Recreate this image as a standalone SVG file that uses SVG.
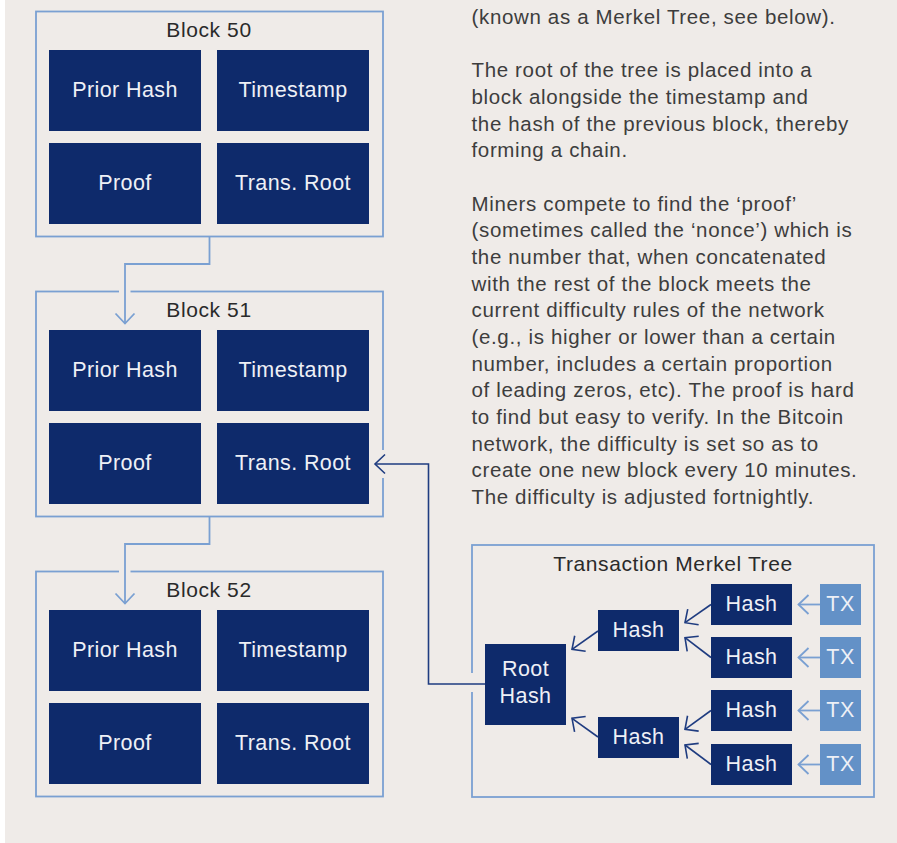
<svg xmlns="http://www.w3.org/2000/svg" width="897" height="843" viewBox="0 0 897 843">
<defs>
<style>
.frame{fill:none;stroke:#7aa0d2;stroke-width:1.8}
.box{fill:#0e2a6b}
.tx{fill:#6391c7}
.lbl{font-family:"Liberation Sans",Arial,sans-serif;font-size:21.5px;letter-spacing:0.4px;fill:#eef0f6;text-anchor:middle}
.title{font-family:"Liberation Sans",Arial,sans-serif;font-size:21px;letter-spacing:0.6px;fill:#2a2a2a;text-anchor:middle}
.para{font-family:"Liberation Sans",Arial,sans-serif;font-size:20.5px;letter-spacing:0.65px;fill:#3d3d3d}
.lc{fill:none;stroke:#7aa0d2;stroke-width:1.8}
.dc{fill:none;stroke:#1f3c80;stroke-width:1.6}
.gap{fill:#efebe8}
</style>
<marker id="al" markerUnits="userSpaceOnUse" markerWidth="14" markerHeight="22" viewBox="0 0 14 22" refX="12" refY="11" orient="auto">
<path d="M2,1.5 L12,11 L2,20.5" fill="none" stroke="#7aa0d2" stroke-width="1.8"/>
</marker>
<marker id="ad" markerUnits="userSpaceOnUse" markerWidth="14" markerHeight="22" viewBox="0 0 14 22" refX="12" refY="11" orient="auto">
<path d="M2,1.5 L12,11 L2,20.5" fill="none" stroke="#1f3c80" stroke-width="1.6"/>
</marker>
</defs>
<rect x="0" y="0" width="897" height="843" fill="#ffffff"/>
<rect x="5" y="0" width="892" height="843" fill="#efebe8"/>

<g id="block50">
<rect class="frame" x="36" y="11.5" width="347" height="225"/>
<text class="title" x="209" y="37">Block 50</text>
<rect class="box" x="49" y="50" width="152" height="81"/>
<text class="lbl" x="125" y="97">Prior Hash</text>
<rect class="box" x="217" y="50" width="152" height="81"/>
<text class="lbl" x="293" y="97">Timestamp</text>
<rect class="box" x="49" y="143" width="152" height="81"/>
<text class="lbl" x="125" y="190">Proof</text>
<rect class="box" x="217" y="143" width="152" height="81"/>
<text class="lbl" x="293" y="190">Trans. Root</text>
</g>

<g id="block51">
<rect class="frame" x="36" y="291.5" width="347" height="225"/>
<text class="title" x="209" y="317">Block 51</text>
<rect class="box" x="49" y="330" width="152" height="81"/>
<text class="lbl" x="125" y="377">Prior Hash</text>
<rect class="box" x="217" y="330" width="152" height="81"/>
<text class="lbl" x="293" y="377">Timestamp</text>
<rect class="box" x="49" y="423" width="152" height="81"/>
<text class="lbl" x="125" y="470">Proof</text>
<rect class="box" x="217" y="423" width="152" height="81"/>
<text class="lbl" x="293" y="470">Trans. Root</text>
</g>

<g id="block52">
<rect class="frame" x="36" y="571.5" width="347" height="225"/>
<text class="title" x="209" y="597">Block 52</text>
<rect class="box" x="49" y="610" width="152" height="81"/>
<text class="lbl" x="125" y="657">Prior Hash</text>
<rect class="box" x="217" y="610" width="152" height="81"/>
<text class="lbl" x="293" y="657">Timestamp</text>
<rect class="box" x="49" y="703" width="152" height="81"/>
<text class="lbl" x="125" y="750">Proof</text>
<rect class="box" x="217" y="703" width="152" height="81"/>
<text class="lbl" x="293" y="750">Trans. Root</text>
</g>

<g id="merkle-tree">
<rect class="frame" x="472" y="545" width="402" height="252"/>
<text class="title" x="673" y="571">Transaction Merkel Tree</text>
</g>
<g id="root-hash">
<rect class="box" x="485" y="644" width="81" height="81"/>
<text class="lbl" x="525.5" y="676">Root</text>
<text class="lbl" x="525.5" y="703">Hash</text>
</g>
<g id="hash-m1"><rect class="box" x="598" y="610" width="81" height="41"/><text class="lbl" x="638.5" y="637">Hash</text></g>
<g id="hash-m2"><rect class="box" x="598" y="717" width="81" height="41"/><text class="lbl" x="638.5" y="744">Hash</text></g>
<g id="hash-l1"><rect class="box" x="711" y="584" width="81" height="41"/><text class="lbl" x="751.5" y="611">Hash</text></g>
<g id="hash-l2"><rect class="box" x="711" y="637" width="81" height="41"/><text class="lbl" x="751.5" y="664">Hash</text></g>
<g id="hash-l3"><rect class="box" x="711" y="690" width="81" height="41"/><text class="lbl" x="751.5" y="717">Hash</text></g>
<g id="hash-l4"><rect class="box" x="711" y="744" width="81" height="41"/><text class="lbl" x="751.5" y="771">Hash</text></g>
<g id="tx1"><rect class="tx" x="820" y="584" width="41" height="41"/><text class="lbl" x="840.5" y="611">TX</text></g>
<g id="tx2"><rect class="tx" x="820" y="637" width="41" height="41"/><text class="lbl" x="840.5" y="664">TX</text></g>
<g id="tx3"><rect class="tx" x="820" y="690" width="41" height="41"/><text class="lbl" x="840.5" y="717">TX</text></g>
<g id="tx4"><rect class="tx" x="820" y="744" width="41" height="41"/><text class="lbl" x="840.5" y="771">TX</text></g>

<g id="description">
<text class="para">
<tspan x="471.5" y="24">(known as a Merkel Tree, see below).</tspan>
<tspan x="471.5" y="77.3">The root of the tree is placed into a</tspan>
<tspan x="471.5" y="104">block alongside the timestamp and</tspan>
<tspan x="471.5" y="130.7">the hash of the previous block, thereby</tspan>
<tspan x="471.5" y="157.3">forming a chain.</tspan>
<tspan x="471.5" y="210.7">Miners compete to find the ‘proof’</tspan>
<tspan x="471.5" y="237.3">(sometimes called the ‘nonce’) which is</tspan>
<tspan x="471.5" y="264">the number that, when concatenated</tspan>
<tspan x="471.5" y="290.7">with the rest of the block meets the</tspan>
<tspan x="471.5" y="317.3">current difficulty rules of the network</tspan>
<tspan x="471.5" y="344">(e.g., is higher or lower than a certain</tspan>
<tspan x="471.5" y="370.7">number, includes a certain proportion</tspan>
<tspan x="471.5" y="397.3">of leading zeros, etc). The proof is hard</tspan>
<tspan x="471.5" y="424">to find but easy to verify. In the Bitcoin</tspan>
<tspan x="471.5" y="450.7">network, the difficulty is set so as to</tspan>
<tspan x="471.5" y="477.3">create one new block every 10 minutes.</tspan>
<tspan x="471.5" y="504">The difficulty is adjusted fortnightly.</tspan>
</text>
</g>

<g id="connectors">
<rect class="gap" x="119" y="288" width="11.5" height="7"/>
<rect class="gap" x="119" y="568" width="11.5" height="7"/>
<rect class="gap" x="379" y="450" width="8" height="28"/>
<rect class="gap" x="468" y="673" width="8" height="19"/>
<path class="lc" d="M209.5,237 V264 H125 V323.5" marker-end="url(#al)"/>
<path class="lc" d="M209.5,517 V544 H125 V603.5" marker-end="url(#al)"/>
<path class="dc" d="M485,684 H428.5 V464 H375" marker-end="url(#ad)"/>
<path class="lc" d="M820,604.5 H798.5" marker-end="url(#al)"/>
<path class="lc" d="M820,657.5 H798.5" marker-end="url(#al)"/>
<path class="lc" d="M820,710.5 H798.5" marker-end="url(#al)"/>
<path class="lc" d="M820,764.5 H798.5" marker-end="url(#al)"/>
<path class="dc" d="M711,604.5 L685,622.7" marker-end="url(#ad)"/>
<path class="dc" d="M711,657.5 L685,637.7" marker-end="url(#ad)"/>
<path class="dc" d="M711,710.5 L685,729.3" marker-end="url(#ad)"/>
<path class="dc" d="M711,764.5 L685,745" marker-end="url(#ad)"/>
<path class="dc" d="M598,631 L572,649.3" marker-end="url(#ad)"/>
<path class="dc" d="M598,737 L572,718.3" marker-end="url(#ad)"/>
</g>
</svg>
